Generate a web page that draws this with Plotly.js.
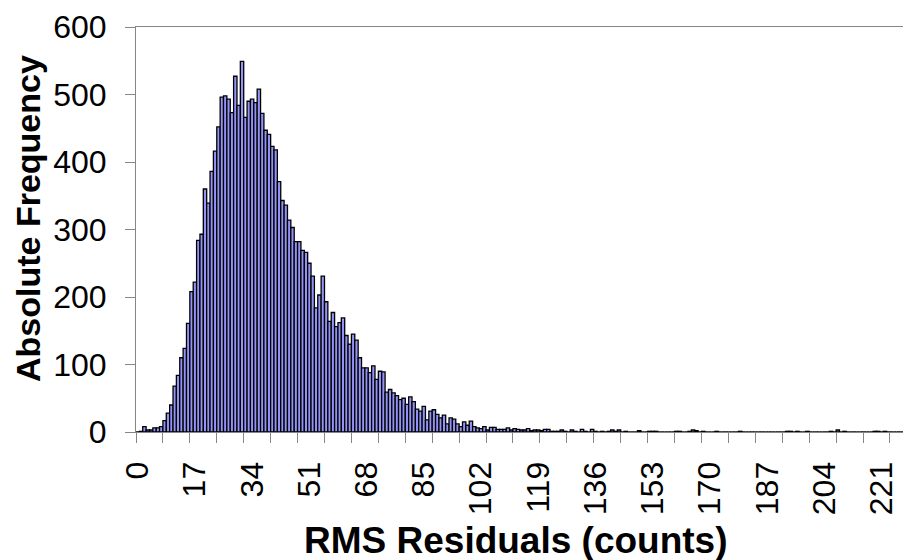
<!DOCTYPE html>
<html>
<head>
<meta charset="utf-8">
<script src="https://cdn.plot.ly/plotly-3.0.1.min.js"></script>
<style>
  html, body { margin: 0; padding: 0; background: #ffffff; }
  #chart { width: 903px; height: 560px; }
</style>
</head>
<body>
<div id="chart"></div>
<script>
// Absolute frequency of RMS residuals, one value per bin (bins 0, 1, 2, ...)
const counts = [
  0, 1, 8, 3, 3, 6, 6, 8, 17, 28,
  40, 68, 84, 110, 124, 161, 208, 222, 284, 293,
  360, 339, 386, 416, 452, 496, 498, 493, 473, 527,
  484, 549, 466, 490, 493, 488, 508, 472, 447, 441,
  423, 418, 371, 343, 336, 314, 303, 282, 282, 269,
  266, 250, 231, 184, 203, 231, 193, 164, 177, 156,
  162, 169, 143, 130, 145, 136, 110, 95, 95, 88,
  98, 78, 90, 89, 59, 63, 58, 54, 48, 50,
  41, 52, 45, 34, 31, 38, 18, 31, 33, 26,
  21, 25, 12, 21, 19, 12, 8, 15, 10, 16,
  8, 6, 5, 8, 3, 7, 7, 4, 4, 4,
  6, 3, 5, 4, 3, 3, 5, 2, 3, 3,
  2, 4, 4, 1, 1, 1, 3, 1, 0, 3,
  1, 0, 4, 1, 0, 4, 1, 0, 1, 0,
  1, 3, 1, 3, 0, 1, 0, 0, 0, 2,
  0, 0, 1, 1, 1, 0, 0, 0, 0, 0,
  1, 1, 0, 0, 1, 3, 2, 0, 1, 0,
  0, 0, 1, 0, 0, 0, 0, 0, 0, 1,
  0, 0, 0, 0, 0, 0, 0, 0, 0, 0,
  0, 0, 0, 1, 1, 0, 1, 0, 0, 1,
  0, 0, 0, 0, 0, 0, 1, 0, 3, 0,
  1, 0, 0, 0, 0, 0, 0, 0, 0, 1,
  1, 0, 1, 0, 0, 0, 0, 0
];
const bins = counts.map((_, i) => i);

const xTickVals = [0, 17, 34, 51, 68, 85, 102, 119, 136, 153, 170, 187, 204, 221];
const xTickText = ['0', '17', '34', '51', '68', '85', '102', '119', '136', '153', '170', '187', '204', '221'];
const yTickVals = [0, 100, 200, 300, 400, 500, 600];

const xTitle = 'RMS Residuals (counts)';
const yTitle = 'Absolute Frequency';

const FONT = 'Liberation Sans, Arial, sans-serif';
const AXIS_GRAY = '#868686';

const trace = {
  type: 'bar',
  x: bins,
  y: counts,
  marker: { color: '#9494F8', line: { color: '#000000', width: 1.3 } },
  hoverinfo: 'x+y'
};

const layout = {
  width: 903,
  height: 560,
  margin: { l: 136, r: 0, t: 27, b: 128, pad: 0 },
  paper_bgcolor: '#ffffff',
  plot_bgcolor: '#ffffff',
  bargap: 0,
  showlegend: false,
  font: { family: FONT, color: '#000000' },
  xaxis: {
    type: 'linear',
    range: [-0.5, 227.37],
    showgrid: false,
    zeroline: false,
    showline: true,
    linecolor: AXIS_GRAY,
    linewidth: 1,
    mirror: true,
    tickmode: 'array',
    tickvals: xTickVals,
    ticktext: xTickText,
    ticks: '',
    tickangle: -90,
    ticklabelstandoff: 16,
    tickfont: { family: FONT, size: 32, color: '#000000' },
    minor: { tick0: -0.5, dtick: 8, ticks: 'outside', ticklen: 10, tickwidth: 1, tickcolor: AXIS_GRAY, showgrid: false }
  },
  yaxis: {
    range: [0, 600],
    showgrid: false,
    zeroline: false,
    showline: true,
    linecolor: AXIS_GRAY,
    linewidth: 1,
    tickmode: 'array',
    tickvals: yTickVals,
    ticks: 'outside',
    ticklen: 10,
    tickwidth: 1,
    tickcolor: AXIS_GRAY,
    ticklabelstandoff: 12,
    tickfont: { family: FONT, size: 32, color: '#000000' }
  },
  annotations: [
    {
      text: '<b>' + yTitle + '</b>',
      xref: 'paper', yref: 'paper',
      x: (28 - 136) / 767, y: (432 - 219) / 405,
      xanchor: 'center', yanchor: 'middle',
      textangle: -90,
      showarrow: false,
      font: { family: FONT, size: 34, color: '#000000' }
    },
    {
      text: '<b>' + xTitle + '</b>',
      xref: 'paper', yref: 'paper',
      x: (516 - 136) / 767, y: (432 - 540) / 405,
      xanchor: 'center', yanchor: 'middle',
      showarrow: false,
      font: { family: FONT, size: 37, color: '#000000' }
    }
  ]
};

Plotly.newPlot('chart', [trace], layout, { displayModeBar: false, staticPlot: true });
</script>
</body>
</html>
